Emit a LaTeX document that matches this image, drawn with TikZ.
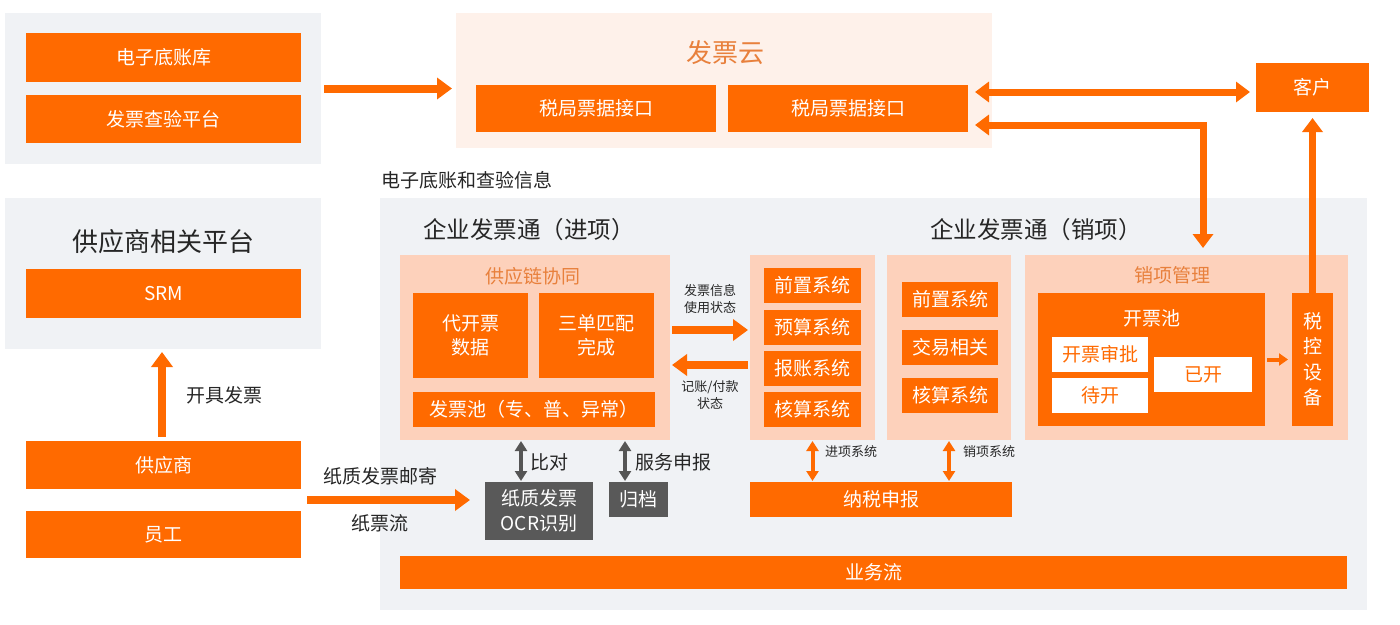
\documentclass[tikz,border=0pt]{standalone}
\usepackage{fontspec}
\setmainfont{Noto Sans CJK SC}
\usetikzlibrary{arrows.meta,calc}
\definecolor{org}{HTML}{FF6A00}
\definecolor{bggray}{HTML}{F0F2F5}
\definecolor{cloudbg}{HTML}{FEF1EA}
\definecolor{peach}{HTML}{FDD1BB}
\definecolor{dgray}{HTML}{595959}
\definecolor{agray}{HTML}{555555}
\definecolor{otitle}{HTML}{E8803C}
\definecolor{txt}{HTML}{262626}
\begin{document}
\begin{tikzpicture}[x=1pt,y=-1pt,
 fa/.style={font=\fontsize{19}{24}\selectfont},
 fb/.style={font=\fontsize{13}{16.5}\selectfont},
 fc/.style={font=\fontsize{23.5}{27}\selectfont},
 fd/.style={font=\fontsize{26}{30}\selectfont},
 sz/.style 2 args={minimum width=#1pt, minimum height=#2pt},
 pane/.style={inner sep=0pt, outer sep=0pt},
 graypane/.style={pane, fill=bggray},
 cloudpane/.style={pane, fill=cloudbg},
 peachpane/.style={pane, fill=peach},
 box/.style={inner sep=0pt, outer sep=0pt, align=center, fa},
 obox/.style={box, fill=org, text=white},
 wbox/.style={box, fill=white, text=org},
 gbox/.style={box, fill=dgray, text=white},
 ttl/.style={inner sep=0pt, text=txt},
 otl/.style={inner sep=0pt, text=otitle, fa},
 bigarr/.style={draw=org, line width=8pt, -{Triangle[width=21pt,length=15pt]}},
 bibig/.style={draw=org, line width=7pt, {Triangle[width=20pt,length=14pt]}-{Triangle[width=20pt,length=14pt]}},
 smallbi/.style={draw=org, line width=4pt, {Triangle[width=12pt,length=10pt]}-{Triangle[width=12pt,length=10pt]}},
 graybi/.style={draw=agray, line width=4.5pt, {Triangle[width=12pt,length=10pt]}-{Triangle[width=12pt,length=10pt]}},
 smallarr/.style={draw=org, line width=4pt, -{Triangle[width=12pt,length=9pt]}},
]
\fill[white] (0,0) rectangle (1400,624);
\useasboundingbox (0,0) rectangle (1400,624);

% panels
\node[graypane, sz={316}{151}] (gp1) at (163,88.5) {};
\node[cloudpane, sz={536}{135}] (cloud) at (724,80.5) {};
\node[graypane, sz={316}{151}] (gp2) at (163,273.5) {};
\node[graypane, sz={987}{412}] (main) at (873.5,404) {};
\node[peachpane, sz={270}{185}] (scp) at (535,347.5) {};
\node[peachpane, sz={125}{185}] (inp) at (812.5,347.5) {};
\node[peachpane, sz={124}{185}] (outp) at (949,347.5) {};
\node[peachpane, sz={323}{185}] (xxp) at (1186.5,347.5) {};

% titles
\node[ttl, fd, text=otitle] (cloudt) at (725,53) {发票云};
\node[ttl, fd] (gp2t) at (163,242) {供应商相关平台};
\node[ttl, fa, anchor=west] (infot) at (381,180) {电子底账和查验信息};
\node[ttl, fc] (jxt) at (529,230) {企业发票通（进项）};
\node[ttl, fc] (xxt) at (1036,230) {企业发票通（销项）};
\node[otl] (scpt) at (533,276) {供应链协同};
\node[otl] (xxpt) at (1172,275) {销项管理};

% left boxes
\node[obox, sz={275}{49}] (dzdzk) at (163.5,57.5) {电子底账库};
\node[obox, sz={275}{48}] (fpcy) at (163.5,119) {发票查验平台};
\node[obox, sz={275}{49}] (srm) at (163.5,293.5) {SRM};
\node[obox, sz={275}{48}] (gys) at (163.5,465) {供应商};
\node[obox, sz={275}{47}] (yg) at (163.5,534.5) {员工};

% cloud boxes
\node[obox, sz={240}{47}] (sj1) at (596,108.5) {税局票据接口};
\node[obox, sz={240}{47}] (sj2) at (848,108.5) {税局票据接口};
\node[obox, sz={113}{49}] (kehu) at (1312.5,87.5) {客户};

% supply chain
\node[obox, sz={115}{85}] (dkp) at (470.5,335.5) {代开票\\数据};
\node[obox, sz={115}{85}] (sdpp) at (596.5,335.5) {三单匹配\\完成};
\node[obox, sz={242}{35}] (fpc) at (534,409.5) {发票池（专、普、异常）};

% in systems
\node[obox, sz={97}{35}] (in1) at (812.5,285.5) {前置系统};
\node[obox, sz={97}{35}] (in2) at (812.5,327.5) {预算系统};
\node[obox, sz={97}{35}] (in3) at (812.5,368.5) {报账系统};
\node[obox, sz={97}{35}] (in4) at (812.5,409.5) {核算系统};

% out systems
\node[obox, sz={96}{35}] (out1) at (950,299.5) {前置系统};
\node[obox, sz={96}{35}] (out2) at (950,347.5) {交易相关};
\node[obox, sz={96}{35}] (out3) at (950,395.5) {核算系统};

\node[obox, sz={262}{35}] (nssb) at (881,499.5) {纳税申报};

% sales management
\node[obox, sz={227}{133}] (kpc) at (1151.5,359.5) {};
\node[ttl, fa, text=white] (kpct) at (1152,318) {开票池};
\node[wbox, sz={96}{35}] (kpsp) at (1100,354.5) {开票审批};
\node[wbox, sz={96}{35}] (dk) at (1100,395.5) {待开};
\node[wbox, sz={98}{35}] (yk) at (1203,374.5) {已开};
\node[obox, sz={41}{133}, font=\fontsize{19}{25.5}\selectfont] (sk) at (1312.5,359.5) {税\\控\\设\\备};

% gray boxes
\node[gbox, sz={108}{58}, font=\fontsize{19}{25}\selectfont] (ocr) at (539,511) {纸质发票\\OCR识别};
\node[gbox, sz={59}{35}] (gd) at (638.5,499.5) {归档};

\node[obox, sz={947}{33}] (ywl) at (873.5,572.5) {业务流};

% connectors
\draw[bigarr] ($(gp1.east)+(3,0)$) -- ($(cloud.west |- gp1.east)+(-4,0)$);
\draw[bibig] ($(sj2.east)+(7,-16.5)$) -- ($(kehu.west)+(-6,4.5)$);
\draw[bibig] ($(sj2.east)+(7,16.5)$) -| ($(xxp.north west)+(178,-7)$);
\draw[bibig, -{Triangle[width=20pt,length=14pt]}] (sk.north) -- ($(kehu.south)+(0,6)$);
\draw[bigarr] ($(gys.north)+(-1.5,-4)$) -- ($(gp2.south)+(-1,3)$);
\draw[bigarr] ($(gys.south east)!0.5!(yg.north east)+(6,0)$) -- ($(ocr.west)+(-15,-11)$);
\draw[bigarr] ($(scp.east)+(2,-17.5)$) -- ($(inp.west)+(-2,-17.5)$);
\draw[bigarr] ($(inp.west)+(-2,17.5)$) -- ($(scp.east)+(2,17.5)$);
\draw[graybi] ($(scp.south west)+(121,1)$) -- ($(ocr.north west)+(36,-1)$);
\draw[graybi] ($(scp.south west)+(225,1)$) -- ($(gd.north west)+(16,-1)$);
\draw[smallbi] ($(inp.south)+(0,1)$) -- ($(inp.south |- nssb.north)+(0,-1)$);
\draw[smallbi] ($(outp.south)+(0,1)$) -- ($(outp.south |- nssb.north)+(0,-1)$);
\draw[smallarr] ($(kpc.east)+(2,0)$) -- ($(sk.west)+(-4,0)$);

% connector labels
\node[ttl, fb, align=center] (l1) at (710,299) {发票信息\\使用状态};
\node[ttl, fb, align=center] (l2) at (710,395) {记账/付款\\状态};
\node[ttl, fb, anchor=west] (l3) at (825,452) {进项系统};
\node[ttl, fb, anchor=west] (l4) at (963,452) {销项系统};
\node[ttl, fa, anchor=west] (l5) at (186,395) {开具发票};
\node[ttl, fa] (l6) at (380,476) {纸质发票邮寄};
\node[ttl, fa] (l7) at (380,523) {纸票流};
\node[ttl, fa, anchor=west] (l8) at (530,462) {比对};
\node[ttl, fa, anchor=west] (l9) at (635,462) {服务申报};
\end{tikzpicture}
\end{document}
